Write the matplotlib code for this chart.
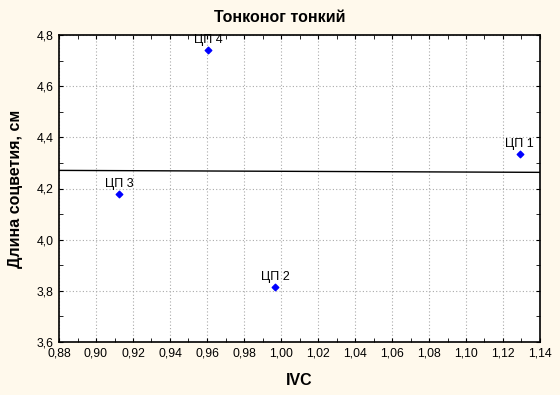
import numpy as np
import matplotlib
matplotlib.use("Agg")
import matplotlib.pyplot as plt
from matplotlib.ticker import MultipleLocator, FuncFormatter

labels = ["ЦП 1", "ЦП 2", "ЦП 3", "ЦП 4"]
ivc = [1.129, 0.997, 0.9125, 0.9606]
length = [4.335, 3.815, 4.178, 4.741]

plt.rcParams['font.family'] = ['Liberation Sans', 'DejaVu Sans']

fig = plt.figure(figsize=(5.6, 3.95), dpi=100, facecolor='#FFF9EC')
ax = fig.add_axes([59/560, 1-342/395, (540-59)/560, (342-35)/395])
ax.set_facecolor('white')

ax.set_xlim(0.88, 1.14)
ax.set_ylim(3.6, 4.8)

coef = np.polyfit(ivc, length, 1)
xs = np.array([0.88, 1.14])
ax.plot(xs, np.polyval(coef, xs), color='black', lw=1.0, zorder=2)

ax.scatter(ivc, length, marker='D', s=11, color='#0000FF', zorder=3)
for lab, x, y in zip(labels, ivc, length):
    ax.annotate(lab, (x, y), xytext=(0, 3), textcoords='offset points',
                ha='center', va='bottom', fontsize=9, color='black')

ax.xaxis.set_major_locator(MultipleLocator(0.02))
ax.xaxis.set_minor_locator(MultipleLocator(0.01))
ax.yaxis.set_major_locator(MultipleLocator(0.2))
ax.yaxis.set_minor_locator(MultipleLocator(0.1))
fmt = FuncFormatter(lambda v, p: f"{v:.2f}".replace('.', ','))
fmty = FuncFormatter(lambda v, p: f"{v:.1f}".replace('.', ','))
ax.xaxis.set_major_formatter(fmt)
ax.yaxis.set_major_formatter(fmty)
ax.tick_params(which='both', direction='in', top=True, right=True, labelsize=8.8, colors='black')
ax.tick_params(which='major', length=3, pad=4)
ax.tick_params(which='minor', length=3)
ax.grid(True, which='major', linestyle=(0, (1, 2)), color='#AAAAAA', lw=0.8)
ax.set_axisbelow(True)
for s in ax.spines.values():
    s.set_linewidth(1.2)

fig.text(0.5, 1-18/395, "Тонконог тонкий", fontsize=11.5, fontweight='bold',
         ha='center', va='center')
ax.set_xlabel("IVC", fontsize=11.5, fontweight='bold', labelpad=10)
ax.set_ylabel("Длина соцветия, см", fontsize=11.5, fontweight='bold', labelpad=10)

fig.savefig("out.png", dpi=100, facecolor=fig.get_facecolor())
